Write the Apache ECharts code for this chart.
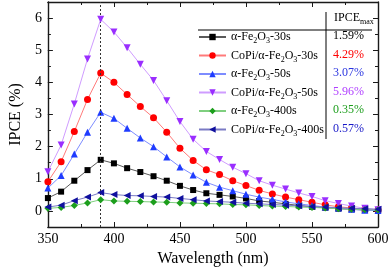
<!DOCTYPE html>
<html><head><meta charset="utf-8">
<script src="https://cdn.jsdelivr.net/npm/echarts@6/dist/echarts.min.js"></script>
<style>html,body{margin:0;padding:0;background:#fff}#c{width:392px;height:272px}</style>
</head><body><div id="c"></div>
<script>
const wavelengths = [350,360,370,380,390,400,410,420,430,440,450,460,470,480,490,500,510,520,530,540,550,560,570,580,590,600];
const fe30s     = [0.40,0.60,0.94,1.27,1.59,1.48,1.33,1.21,1.08,0.94,0.78,0.65,0.55,0.50,0.45,0.39,0.31,0.27,0.22,0.17,0.13,0.10,0.07,0.05,0.03,0.02];
const copi30s   = [0.91,1.53,2.47,3.47,4.29,4.00,3.62,3.25,2.90,2.45,1.95,1.57,1.28,1.13,0.94,0.79,0.64,0.53,0.43,0.35,0.27,0.19,0.13,0.09,0.05,0.03];
const fe50s     = [0.71,1.10,1.77,2.45,3.07,2.88,2.57,2.27,2.00,1.68,1.37,1.12,0.89,0.74,0.63,0.52,0.43,0.36,0.28,0.22,0.17,0.12,0.09,0.05,0.02,0.01];
const copi50s   = [1.22,2.05,3.33,4.73,5.96,5.57,5.08,4.56,4.06,3.43,2.78,2.23,1.85,1.60,1.36,1.16,0.94,0.80,0.68,0.56,0.45,0.32,0.23,0.15,0.08,0.04];
const fe400s    = [0.08,0.11,0.17,0.25,0.35,0.31,0.30,0.29,0.28,0.27,0.25,0.24,0.23,0.22,0.20,0.19,0.17,0.15,0.14,0.12,0.11,0.09,0.07,0.05,0.04,0.03];
const copi400s  = [0.12,0.18,0.32,0.43,0.57,0.51,0.48,0.47,0.45,0.43,0.39,0.35,0.31,0.29,0.27,0.24,0.22,0.20,0.18,0.16,0.14,0.12,0.10,0.08,0.07,0.05];
const seriesNames = ['α-Fe2O3-30s','CoPi/α-Fe2O3-30s','α-Fe2O3-50s','CoPi/α-Fe2O3-50s','α-Fe2O3-400s','CoPi/α-Fe2O3-400s'];
const ipceMax = ['1.59%','4.29%','3.07%','5.96%','0.35%','0.57%'];
const peakWavelength = 390;

const seriesData = [fe30s, copi30s, fe50s, copi50s, fe400s, copi400s];
const markerColors = ['#000000','#ff0000','#1f3cff','#9a2eff','#1c9e1c','#10109e'];
const lineColors   = ['#5a5a5a','#ff7a7a','#7d8cff','#cf9cff','#7fcf7f','#7a7ac4'];
const valueColors  = ['#000000','#ff0000','#2a35e0','#b040ff','#1c9e1c','#1818c8'];
const symbols = ['rect','circle','triangle','triangle','diamond','triangle'];
const rotations = [0,0,0,180,0,90];
const sizes = [6,7,7,7,7,7];
const FONT = 'Liberation Serif';

const series = seriesData.map((d,i)=>({
  name: seriesNames[i], type:'line',
  data: d.map((v,j)=>[wavelengths[j], v]),
  symbol: symbols[i], symbolRotate: rotations[i], symbolSize: sizes[i],
  itemStyle:{color: markerColors[i]},
  lineStyle:{color: lineColors[i], width:1},
  emphasis:{disabled:true},
  z: 2+i,
  markLine: i===0 ? {silent:true, symbol:['none','none'], label:{show:false},
     lineStyle:{type:[2,2], color:'#333', width:1},
     data:[{xAxis: peakWavelength}]} : undefined
}));

const chart = echarts.init(document.getElementById('c'));
const axisLine = {show:true, onZero:false, lineStyle:{color:'#1a1a1a', width:1.4}};
const rowTop = 29, rowStep = 18.5;
const graphics = [
  {type:'line', shape:{x1:198,y1:30,x2:372,y2:30}, style:{stroke:'#000',lineWidth:1}},
  {type:'line', shape:{x1:326,y1:12,x2:326,y2:139}, style:{stroke:'#000',lineWidth:1}},
  {type:'text', left:334, top:10, style:{text:'IPCE{s|max}', font:'12px '+FONT, fill:'#000',
     rich:{s:{fontSize:8, fontFamily:FONT, lineHeight:8, verticalAlign:'bottom'}}, lineHeight:16}}
];
ipceMax.forEach((t,i)=>{
  graphics.push({type:'text', left:333, top: rowTop + i*rowStep + 1, style:{text:t, font:'12px '+FONT, fill:valueColors[i]}});
});

chart.setOption({
  animation:false,
  grid:{left:37, right:14, top:2, bottom:43},
  xAxis:[
    {type:'value', min:350, max:600, interval:50, position:'bottom',
     axisLine, axisTick:{inside:true, length:5, lineStyle:{color:'#1a1a1a'}},
     minorTick:{show:true, splitNumber:2, length:3, lineStyle:{color:'#1a1a1a'}},
     splitLine:{show:false},
     axisLabel:{color:'#000', fontFamily:FONT, fontSize:14, margin:5},
     name:'Wavelength (nm)', nameLocation:'middle', nameGap:24,
     nameTextStyle:{color:'#000', fontFamily:FONT, fontSize:16}},
    {type:'value', min:350, max:600, interval:50, position:'top',
     axisLine, axisTick:{inside:true, length:5, lineStyle:{color:'#1a1a1a'}},
     minorTick:{show:true, splitNumber:2, length:3, lineStyle:{color:'#1a1a1a'}},
     splitLine:{show:false}, axisLabel:{show:false}}
  ],
  yAxis:[
    {type:'value', min:-0.5, max:6.5, interval:0.5, position:'left',
     axisLine, axisTick:{inside:true, length:3, lineStyle:{color:'#1a1a1a'}},
     splitLine:{show:false},
     axisLabel:{color:'#000', fontFamily:FONT, fontSize:14, margin:6,
       formatter:v=> (Math.abs(v-Math.round(v))<1e-9 ? String(Math.round(v)) : '')},
     name:'IPCE (%)', nameLocation:'middle', nameGap:23,
     nameTextStyle:{color:'#000', fontFamily:FONT, fontSize:16}},
    {type:'value', min:-0.5, max:6.5, splitNumber:7, position:'left',
     axisLine:{show:false, onZero:false}, axisTick:{inside:true, length:5, lineStyle:{color:'#1a1a1a'}},
     splitLine:{show:false}, axisLabel:{show:false}},
    {type:'value', min:-0.5, max:6.5, interval:0.5, position:'right',
     axisLine, axisTick:{inside:true, length:3, lineStyle:{color:'#1a1a1a'}},
     splitLine:{show:false}, axisLabel:{show:false}},
    {type:'value', min:-0.5, max:6.5, splitNumber:7, position:'right',
     axisLine:{show:false, onZero:false}, axisTick:{inside:true, length:5, lineStyle:{color:'#1a1a1a'}},
     splitLine:{show:false}, axisLabel:{show:false}}
  ],
  legend:{orient:'vertical', left:198, top:rowTop, itemWidth:27, itemHeight:8, itemGap:2.5,
    padding:0, selectedMode:false, data: seriesNames,
    formatter: n => n.replace('Fe2O3','Fe{s|2}O{s|3}'),
    textStyle:{color:'#000', fontFamily:FONT, fontSize:12, lineHeight:16,
      rich:{s:{fontSize:8, fontFamily:FONT, lineHeight:8, verticalAlign:'bottom'}}}},
  graphic: graphics,
  series
});
</script></body></html>
